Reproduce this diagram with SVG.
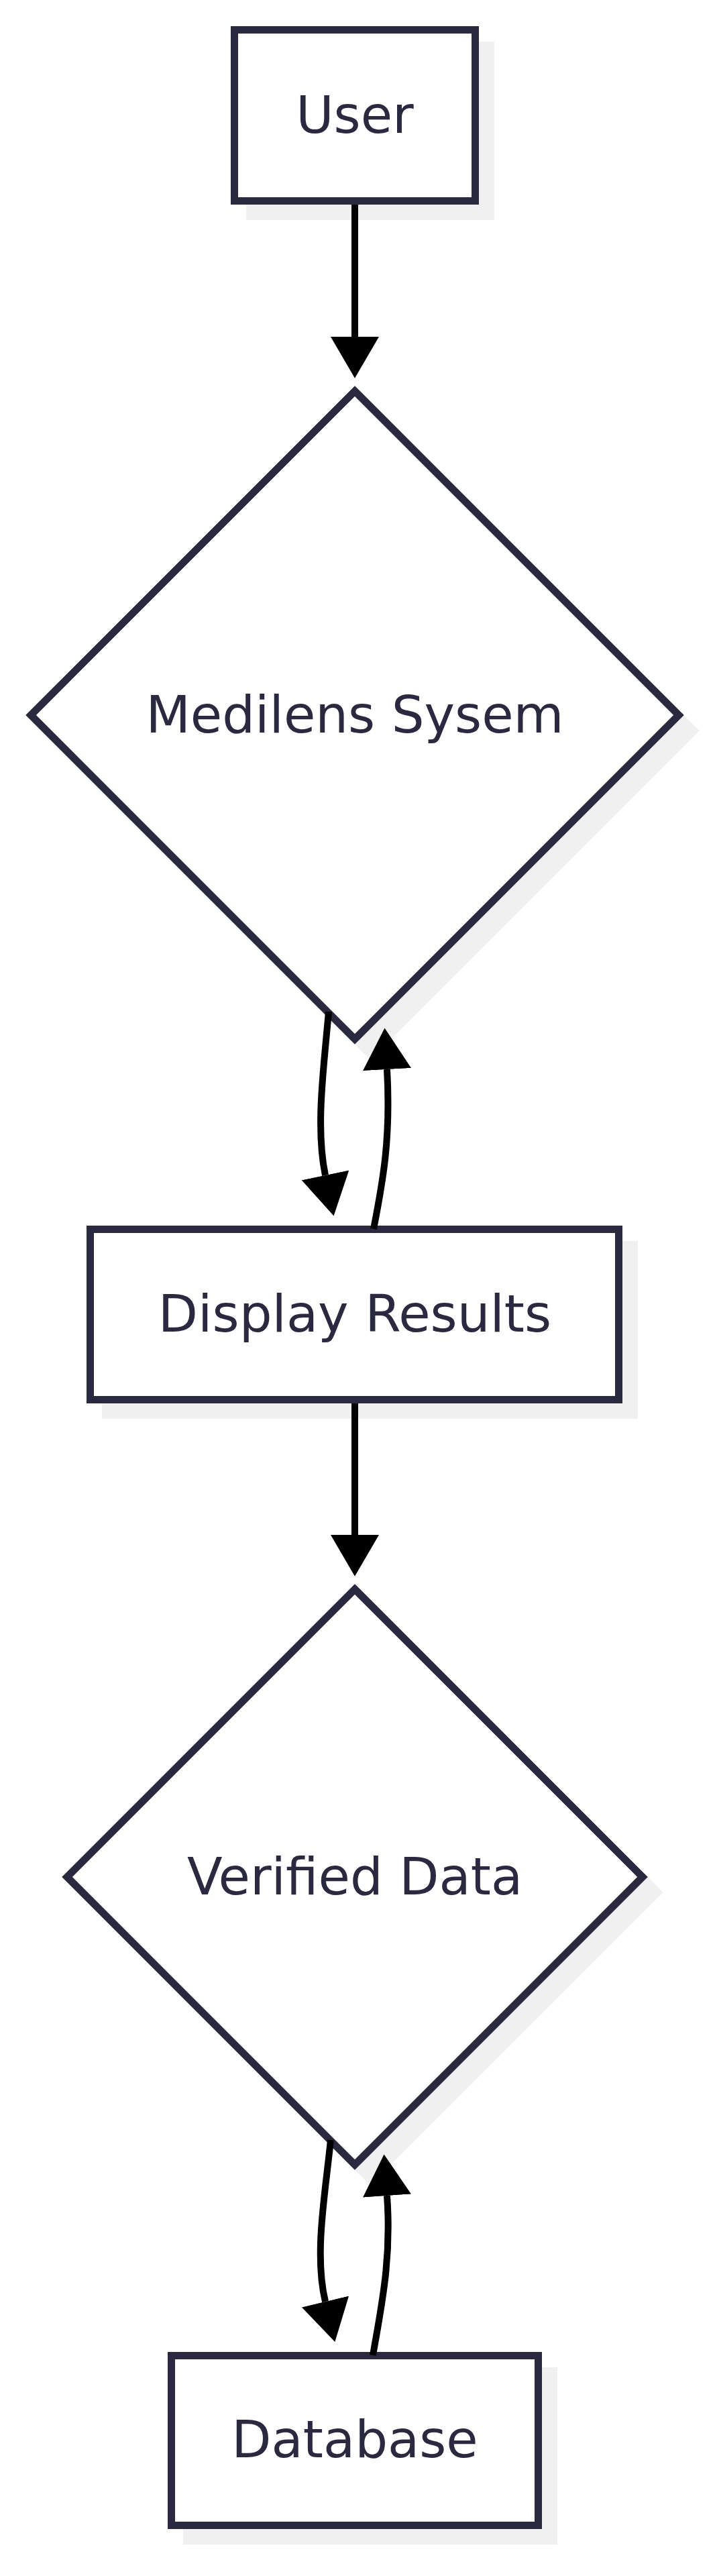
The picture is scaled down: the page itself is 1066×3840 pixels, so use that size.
<svg xmlns="http://www.w3.org/2000/svg" width="1066" height="3840" viewBox="0 0 1066 3840">
<defs>
<style>
.shape{fill:#ffffff;stroke:#2a2940;stroke-width:11;stroke-linejoin:miter}
.shadow{fill:#f0f0f0;stroke:#f0f0f0;stroke-width:11}
.label{font-family:"DejaVu Sans","Liberation Sans",sans-serif;font-size:77px;fill:#2a2940;text-anchor:middle}
.edge{fill:none;stroke:#000000;stroke-width:10}
</style>
<marker id="arrow" markerUnits="userSpaceOnUse" markerWidth="62" markerHeight="72" refX="0" refY="35" orient="auto" viewBox="0 0 60 70">
<path d="M0,0 L60,35 L0,70 Z" fill="#000000"/>
</marker>
</defs>
<rect width="1066" height="3840" fill="#ffffff"/>
<g id="node-user">
<rect class="shadow" x="372.5" y="67.5" width="359" height="255"/>
<rect class="shape" x="349.5" y="44.5" width="359" height="255"/>
<text class="label" x="529" y="198">User</text>
</g>
<g id="node-medilens">
<polygon class="shadow" points="552,606 1035,1089 552,1572 69,1089"/>
<polygon class="shape" points="529,583 1012,1066 529,1549 46,1066"/>
<text class="label" x="529" y="1092">Medilens Sysem</text>
</g>
<g id="node-display">
<rect class="shadow" x="157.5" y="1855.5" width="788" height="254"/>
<rect class="shape" x="134.5" y="1832.5" width="788" height="254"/>
<text class="label" x="529" y="1985">Display Results</text>
</g>
<g id="node-verified">
<polygon class="shadow" points="552,2392 981,2821 552,3250 123,2821"/>
<polygon class="shape" points="529,2369 958,2798 529,3227 100,2798"/>
<text class="label" x="529" y="2824">Verified Data</text>
</g>
<g id="node-database">
<rect class="shadow" x="278.5" y="3534.5" width="547" height="253"/>
<rect class="shape" x="255.5" y="3511.5" width="547" height="253"/>
<text class="label" x="529" y="3663">Database</text>
</g>
<g id="connectors">
<path class="edge" d="M529,305 L529,502" marker-end="url(#arrow)"/>
<path class="edge" d="M490,1508 C483,1590 470,1680 485,1752" marker-end="url(#arrow)"/>
<path class="edge" d="M557,1832 C570,1765 583,1700 577,1594" marker-end="url(#arrow)"/>
<path class="edge" d="M529,2092 L529,2288" marker-end="url(#arrow)"/>
<path class="edge" d="M493,3190 C485,3270 468,3360 485,3431" marker-end="url(#arrow)"/>
<path class="edge" d="M556,3511 C568,3440 584,3370 577,3273" marker-end="url(#arrow)"/>
</g>
</svg>
